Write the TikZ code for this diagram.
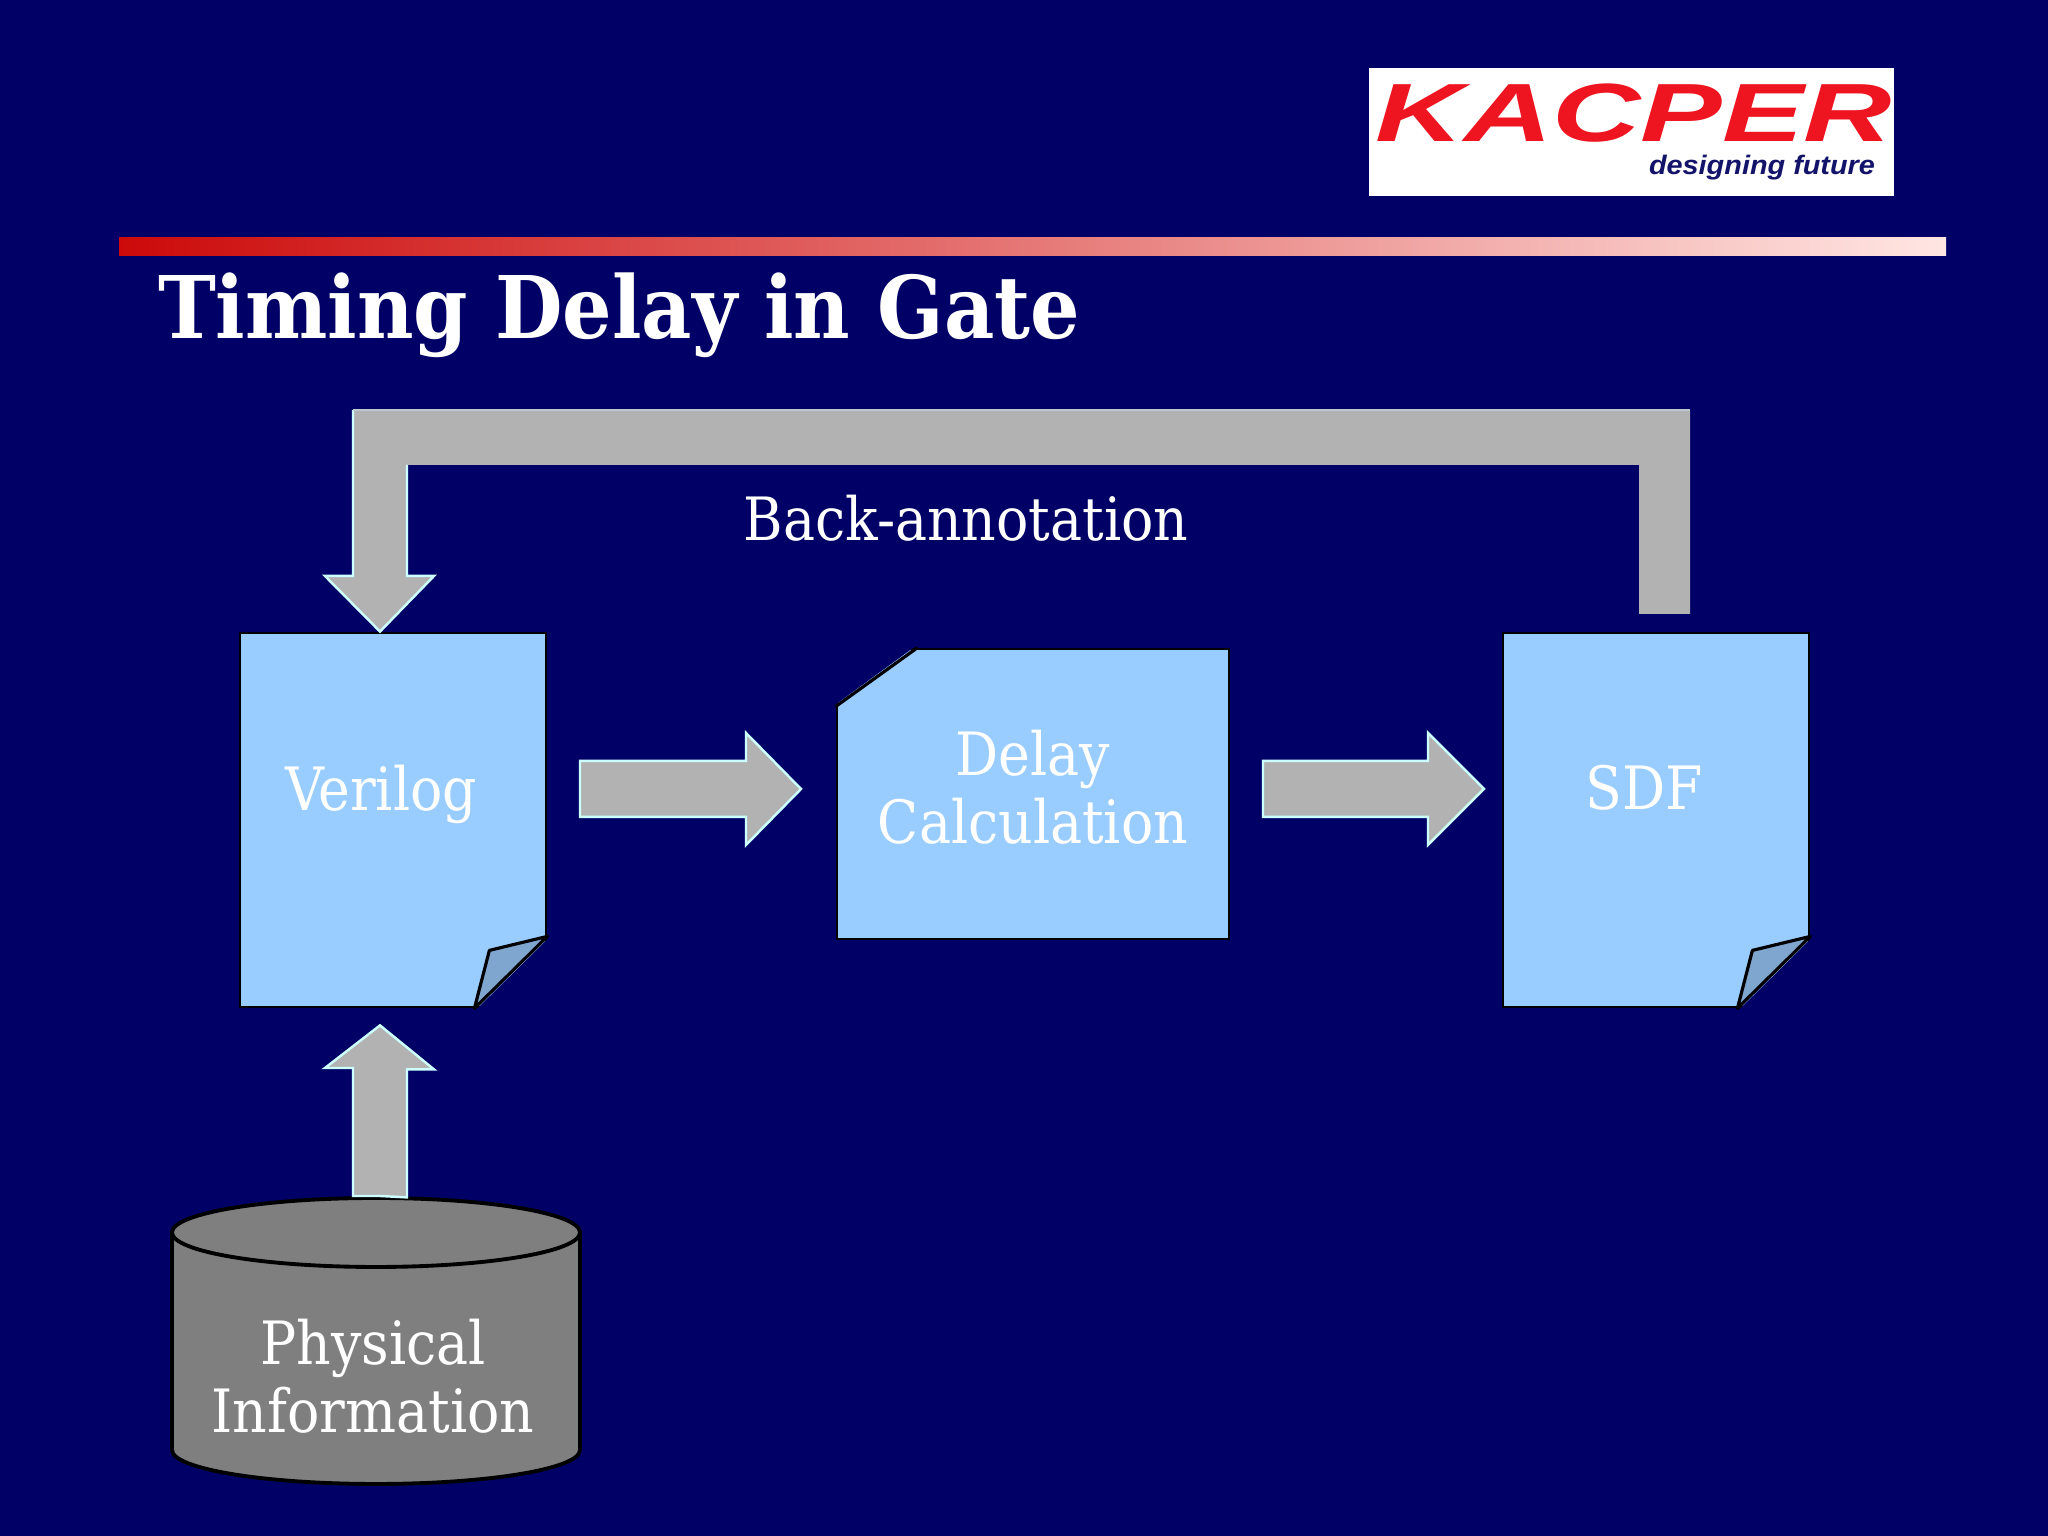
\documentclass[tikz,border=0pt]{standalone}
\usepackage{fontspec}
\setmainfont{DejaVu Serif Condensed}
\setsansfont{Liberation Sans}
\definecolor{slidebg}{HTML}{000066}
\definecolor{docblue}{HTML}{99CCFF}
\definecolor{foldblue}{HTML}{7FA6CF}
\definecolor{arrowgray}{HTML}{B2B2B2}
\definecolor{arrowedge}{HTML}{CCFFFF}
\definecolor{dbgray}{HTML}{7F7F7F}
\definecolor{logored}{HTML}{EE1520}
\definecolor{barred}{HTML}{CC0A0A}
\definecolor{barpink}{HTML}{FFE6E3}
\tikzset{
	docbox/.style={draw=black, line width=.8pt, fill=docblue, minimum width=3.06cm, minimum height=3.74cm, inner sep=0},
	boxtext/.style={text=white, font=\fontsize{17}{19.35}\selectfont, align=center, inner sep=0},
	blockarrow/.style={draw=arrowedge, line width=.7pt, fill=arrowgray, line join=miter},
	foldpage/.style={draw=black, line width=.9pt, fill=foldblue, line join=round},
}
\begin{document}
\begin{tikzpicture}
	\useasboundingbox (0,0) rectangle (20.48,15.36);
	\fill[slidebg] (0,0) rectangle (20.48,15.36);
	\fill[white] (13.69,13.40) rectangle (18.94,14.68);
	\node[text=logored, font=\sffamily\bfseries\itshape\fontsize{23.5}{28}\selectfont, xscale=1.48, transform shape, inner sep=0] (kacper) at (16.34,14.23) {KACPER};
	\node[text=slidebg!85!gray, font=\sffamily\bfseries\itshape\fontsize{7.6}{9}\selectfont, xscale=1.08, transform shape, inner sep=0] (future) at (17.62,13.68) {designing future};
	\shade[left color=barred, right color=barpink] (1.19,12.80) rectangle (19.46,12.98);
	\node[text=white, font=\bfseries\fontsize{24.6}{30}\selectfont, inner sep=0] (title) at (6.19,12.21) {Timing Delay in Gate};
	
	\node[docbox] (verilog) at (3.93,7.16) {};
	\node[docbox] (sdf) at (16.56,7.16) {};
	\node[draw=black, line width=.8pt, fill=docblue, minimum width=3.92cm, minimum height=2.90cm, inner sep=0] (delay) at (10.33,7.42) {};
	
	% cut corners
	\fill[slidebg] ([shift={(-.03,.03)}]delay.north west) -- ([xshift=.82cm,yshift=.03cm]delay.north west) -- ([yshift=-.59cm,xshift=-.03cm]delay.north west) -- cycle;
	\draw[line width=.9pt] ([xshift=.82cm]delay.north west) -- ([yshift=-.59cm]delay.north west);
	\fill[slidebg] ([shift={(.03,-.03)}]verilog.south east) -- ([shift={(.03,.72)}]verilog.south east) -- ([shift={(-.73,-.03)}]verilog.south east) -- cycle;
	\draw[foldpage] ([xshift=-.73cm]verilog.south east) -- ([shift={(-.58,.58)}]verilog.south east) -- ([yshift=.72cm]verilog.south east) -- cycle;
	\fill[slidebg] ([shift={(.03,-.03)}]sdf.south east) -- ([shift={(.03,.72)}]sdf.south east) -- ([shift={(-.73,-.03)}]sdf.south east) -- cycle;
	\draw[foldpage] ([xshift=-.73cm]sdf.south east) -- ([shift={(-.58,.58)}]sdf.south east) -- ([yshift=.72cm]sdf.south east) -- cycle;
	
	\node[boxtext] (verilogtext) at (3.81,7.42) {Verilog};
	\node[boxtext] (delaytext) at (10.33,7.49) {Delay\\Calculation};
	\node[boxtext] (sdftext) at (16.44,7.48) {SDF};
	\node[boxtext] (backtext) at (9.66,10.18) {Back-annotation};
	
	% database
	\coordinate (dbtop) at (3.80,3.38);
	\draw[line width=1.1pt, fill=dbgray] (1.72,3.035) arc (180:0:2.04 and .345) -- (5.80,.86) arc (0:-180:2.04 and .34) -- cycle;
	\draw[line width=1.1pt] (1.72,3.035) arc (180:360:2.04 and .345);
	\node[boxtext] (physical) at (3.73,1.595) {Physical\\Information};
	
	% block arrows
	\draw[blockarrow] (3.80,3.40) -- ++(-.27,0) -- ++(0,1.28) -- ++(-.28,0) -- ([yshift=-.17cm]verilog.south -| dbtop) -- ++(.54,-.44) -- ++(-.27,0) -- ++(0,-1.28) -- cycle;
	\coordinate (startfirst) at (5.80,7.47);
	\coordinate (endfirst) at (8.01,7.47);
	\draw[blockarrow] (startfirst) -- ++(0,.28) -- ++(1.66,0) -- ++(0,.28) -- (endfirst) -- ++(-.55,-.56) -- ++(0,.28) -- ++(-1.66,0) -- cycle;
	\coordinate (startsecond) at (12.63,7.47);
	\coordinate (endsecond) at (14.84,7.47);
	\draw[blockarrow] (startsecond) -- ++(0,.28) -- ++(1.65,0) -- ++(0,.28) -- (endsecond) -- ++(-.56,-.56) -- ++(0,.28) -- ++(-1.65,0) -- cycle;
	
	% back annotation
	\fill[arrowgray] (16.39,9.22) -- (16.90,9.22) -- (16.90,11.26) -- (3.53,11.26) -- (3.53,9.60) -- (3.25,9.60) -- (verilog.north -| dbtop) -- (4.34,9.60) -- (4.07,9.60) -- (4.07,10.71) -- (16.39,10.71) -- cycle;
	\draw[draw=arrowedge, line width=.7pt] (4.07,10.71) -- (4.07,9.60) -- (4.34,9.60) -- (verilog.north -| dbtop) -- (3.25,9.60) -- (3.53,9.60) -- (3.53,11.26);
	\draw[draw=arrowgray!70!arrowedge, line width=.4pt] (3.53,11.26) -- (16.90,11.26);
\end{tikzpicture}
\end{document}
